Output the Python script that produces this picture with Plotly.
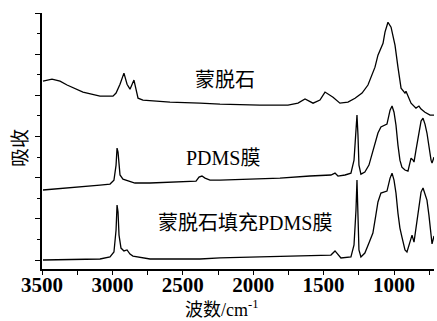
import plotly.graph_objects as go

# FTIR spectra (stacked, arbitrary absorbance units)
wn_mmt = [3493, 3429, 3372, 3322, 3209, 3088, 2996, 2974, 2946, 2918, 2896, 2875, 2847, 2833,
          2818, 2783, 2591, 2378, 2236, 1952, 1753, 1682, 1632, 1575, 1526, 1490, 1433, 1384,
          1327, 1277, 1227, 1185, 1135, 1114, 1078, 1064, 1043, 1021, 993, 972, 950, 922, 915,
          879, 844, 823, 808, 780, 744, 716]
abs_mmt = [8.69, 8.79, 8.69, 8.50, 8.16, 7.96, 7.96, 8.11, 8.54, 9.08, 8.54, 8.30, 8.74, 8.35,
           7.86, 7.77, 7.67, 7.62, 7.57, 7.52, 7.52, 7.62, 7.82, 7.62, 7.77, 8.16, 7.91, 7.62,
           7.67, 7.86, 8.11, 8.50, 9.37, 9.95, 10.53, 11.07, 11.55, 11.31, 10.44, 9.37, 8.35,
           8.11, 8.20, 7.62, 7.38, 7.48, 7.33, 7.18, 7.04, 7.04]

wn_pdms = [3493, 3301, 3088, 3017, 2989, 2974, 2967, 2960, 2946, 2925, 2903, 2875, 2840, 2733,
           2520, 2406, 2385, 2364, 2342, 2307, 2236, 2023, 1810, 1597, 1448, 1419, 1398, 1348,
           1306, 1284, 1270, 1263, 1256, 1249, 1235, 1207, 1178, 1150, 1114, 1093, 1071, 1050,
           1028, 1014, 1000, 986, 972, 958, 944, 922, 901, 879, 865, 858, 844, 830, 808, 794,
           780, 766, 752, 737, 730, 716]
abs_pdms = [3.40, 3.50, 3.64, 3.69, 3.88, 4.61, 5.44, 5.24, 4.13, 3.93, 3.88, 3.79, 3.74, 3.74,
            3.79, 3.83, 4.03, 4.08, 3.98, 3.88, 3.88, 3.93, 3.98, 4.08, 4.13, 4.22, 4.08, 4.13,
            4.22, 4.85, 6.31, 7.04, 6.07, 4.61, 4.17, 4.27, 4.61, 5.24, 6.17, 6.46, 6.55, 6.60,
            7.28, 7.48, 7.18, 6.55, 5.58, 4.85, 4.51, 4.37, 4.32, 4.95, 4.85, 4.76, 5.34, 5.97,
            6.75, 6.89, 6.60, 6.17, 5.44, 4.85, 4.71, 5.00]

wn_comp = [3493, 3088, 3017, 2989, 2974, 2967, 2960, 2953, 2939, 2918, 2896, 2875, 2854, 2733,
           2378, 2236, 1952, 1668, 1448, 1419, 1398, 1377, 1306, 1284, 1270, 1263, 1256, 1249,
           1235, 1207, 1178, 1150, 1129, 1114, 1093, 1071, 1050, 1028, 1014, 1000, 986, 972,
           958, 944, 922, 908, 887, 872, 858, 844, 830, 808, 794, 780, 766, 752, 737, 730, 716]
abs_comp = [0.00, 0.05, 0.15, 0.39, 1.46, 2.67, 2.33, 1.21, 0.58, 0.44, 0.49, 0.29, 0.19, 0.05,
            0.05, 0.10, 0.15, 0.19, 0.24, 0.44, 0.29, 0.10, 0.15, 0.73, 2.43, 3.88, 2.18, 0.49,
            0.15, 0.34, 0.83, 1.31, 2.18, 2.82, 3.25, 3.30, 3.35, 3.98, 4.22, 3.88, 3.25, 2.28,
            1.55, 1.12, 0.49, 0.39, 0.87, 1.21, 0.87, 1.55, 2.28, 3.30, 3.50, 3.16, 2.91, 2.18,
            1.31, 0.78, 1.17]

x_ticks = [3500, 3000, 2500, 2000, 1500, 1000]

# curve labels: (text, wavenumber, absorbance)
labels = [("蒙脱石", 2200, 8.74),
          ("PDMS膜", 2215, 4.95),
          ("蒙脱石填充PDMS膜", 2058, 1.80)]

LINE = dict(color="black", width=1.3)
FONT_TXT = "Liberation Serif, Noto Sans CJK SC, serif"

fig = go.Figure()
for wn, ab in [(wn_mmt, abs_mmt), (wn_pdms, abs_pdms), (wn_comp, abs_comp)]:
    fig.add_trace(go.Scatter(x=wn, y=ab, mode="lines", line=LINE,
                             hoverinfo="skip", showlegend=False))

for txt, xv, yv in labels:
    fig.add_annotation(x=xv, y=yv, text=txt, showarrow=False,
                       font=dict(family=FONT_TXT, size=20, color="black"),
                       xanchor="center", yanchor="middle")

fig.add_annotation(xref="paper", yref="paper", x=0.459, y=0, yshift=-39,
                   text="波数/cm<sup>-1</sup>", showarrow=False,
                   font=dict(family=FONT_TXT, size=18, color="black"),
                   xanchor="center", yanchor="middle")
fig.add_annotation(xref="paper", yref="paper", x=0, xshift=-23, y=0.473,
                   text="吸收", textangle=-90, showarrow=False,
                   font=dict(family="Noto Sans CJK SC", size=19, color="black"),
                   xanchor="center", yanchor="middle")

fig.update_layout(
    width=437, height=321,
    margin=dict(l=42, r=3, t=13, b=52),
    paper_bgcolor="white", plot_bgcolor="white",
    xaxis=dict(range=[3500, 716], tickvals=x_ticks, ticks="outside", ticklen=4,
               tickwidth=1.3, tickcolor="black", ticklabelstandoff=-8,
               minor=dict(dtick=250, ticks="outside", ticklen=4, tickwidth=1.3,
                          tickcolor="black"),
               showline=True, linecolor="black", linewidth=1.6, showgrid=False,
               zeroline=False,
               tickfont=dict(family="Liberation Serif", size=21, color="black",
                             weight="bold")),
    yaxis=dict(range=[-0.437, 12], tick0=0, dtick=2, ticks="outside", ticklen=5,
               tickwidth=1.3, tickcolor="black",
               minor=dict(dtick=1, ticks="outside", ticklen=3, tickwidth=1.3,
                          tickcolor="black"),
               showline=True, linecolor="black", linewidth=1.6, showgrid=False,
               zeroline=False, showticklabels=False),
)

fig.write_html("out.html")
